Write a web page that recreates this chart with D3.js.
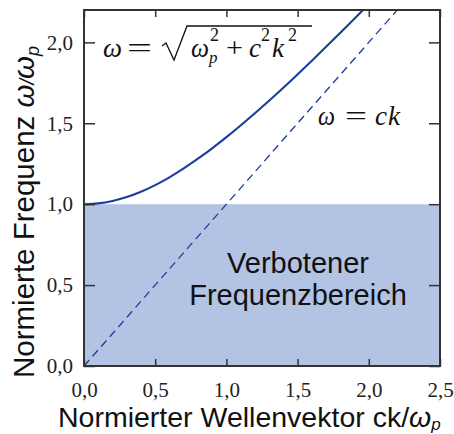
<!DOCTYPE html>
<html><head><meta charset="utf-8">
<script src="https://cdn.jsdelivr.net/npm/d3@7"></script>
<style>body{margin:0;background:#fff}svg{display:block}</style>
</head><body>
<script>
// Data
const curveK     = [0, 0.1, 0.2, 0.3, 0.4, 0.5, 0.6, 0.7, 0.8, 0.9, 1.0, 1.2, 1.4, 1.6, 1.8, 2.0];
const curveOmega = [1.0, 1.005, 1.02, 1.044, 1.077, 1.118, 1.166, 1.221, 1.281, 1.345, 1.414, 1.562, 1.72, 1.887, 2.059, 2.236];
const lineK      = [0, 2.2];
const lineOmega  = [0, 2.2];
const bandK      = [0, 2.5];
const bandOmega  = [1.0, 1.0];
const xTicks = [0, 0.5, 1.0, 1.5, 2.0, 2.5];
const yTicks = [0, 0.5, 1.0, 1.5, 2.0];
const xTickLabels = ["0,0", "0,5", "1,0", "1,5", "2,0", "2,5"];
const yTickLabels = ["0,0", "0,5", "1,0", "1,5", "2,0"];

const W = 454, H = 434;
const m = {l: 84, t: 10, r: 14, b: 68};
const iw = W - m.l - m.r, ih = H - m.t - m.b;
const blue = "#1a3d9e", fillC = "#b3c3e3", frameC = "#333";
const SERIF = "Liberation Serif, DejaVu Serif, Noto Serif, Times New Roman, Times, serif";
const SANS = "Liberation Sans, Arial, Helvetica, sans-serif";

const svg = d3.select("body").append("svg").attr("width", W).attr("height", H);
const x = d3.scaleLinear().domain([0, 2.5]).range([0, iw]);
const y = d3.scaleLinear().domain([0, 2.2]).range([ih, 0]);

svg.append("defs").append("clipPath").attr("id", "clip")
  .append("rect").attr("width", iw).attr("height", ih);

const g = svg.append("g").attr("transform", `translate(${m.l},${m.t})`);
const plot = g.append("g").attr("clip-path", "url(#clip)");

const band = bandK.map((k, i) => ({k, w: bandOmega[i]}));
plot.append("path").datum(band)
  .attr("fill", fillC)
  .attr("d", d3.area().x(d => x(d.k)).y0(y(0)).y1(d => y(d.w)));

const ld = lineK.map((k, i) => ({k, w: lineOmega[i]}));
plot.append("path").datum(ld)
  .attr("fill", "none").attr("stroke", blue).attr("stroke-width", 1.3)
  .attr("stroke-dasharray", "8,5")
  .attr("d", d3.line().x(d => x(d.k)).y(d => y(d.w)));

const cd = curveK.map((k, i) => ({k, w: curveOmega[i]}));
plot.append("path").datum(cd)
  .attr("fill", "none").attr("stroke", blue).attr("stroke-width", 2.1)
  .attr("d", d3.line().curve(d3.curveMonotoneX).x(d => x(d.k)).y(d => y(d.w)));

const fmtX = d => xTickLabels[xTicks.indexOf(d)];
const fmtY = d => yTickLabels[yTicks.indexOf(d)];
const styleAxis = sel => {
  sel.select(".domain").remove();
  sel.attr("font-family", SERIF).attr("font-size", 21);
  sel.selectAll("line").attr("stroke", frameC).attr("stroke-width", 1.5);
  sel.selectAll("text").attr("fill", "#222").attr("font-family", SERIF).attr("font-size", 21);
};
g.append("g").attr("transform", `translate(0,${ih})`)
  .call(d3.axisBottom(x).tickValues(xTicks).tickSize(-7).tickPadding(16).tickFormat(fmtX)).call(styleAxis);
g.append("g")
  .call(d3.axisTop(x).tickValues(xTicks).tickSize(-7).tickFormat("")).call(styleAxis);
g.append("g")
  .call(d3.axisLeft(y).tickValues(yTicks).tickSize(-11).tickPadding(11).tickFormat(fmtY)).call(styleAxis);
g.append("g").attr("transform", `translate(${iw},0)`)
  .call(d3.axisRight(y).tickValues(yTicks).tickSize(-11).tickFormat("")).call(styleAxis);

g.append("rect").attr("width", iw).attr("height", ih)
  .attr("fill", "none").attr("stroke", frameC).attr("stroke-width", 2);

// band label
svg.append("text").attr("x", 298).attr("y", 273).attr("text-anchor", "middle")
  .attr("font-family", SANS).attr("font-size", 29).attr("fill", "#111").text("Verbotener");
svg.append("text").attr("x", 298).attr("y", 305).attr("text-anchor", "middle")
  .attr("font-family", SANS).attr("font-size", 29).attr("fill", "#111").text("Frequenzbereich");

// formulas
const t = (xx, yy, s, sz, it, len) => {
  const e = svg.append("text").attr("x", xx).attr("y", yy)
    .attr("font-family", SERIF).attr("font-size", sz)
    .attr("font-style", it ? "italic" : "normal").attr("fill", "#111").text(s);
  if (len) e.attr("textLength", len).attr("lengthAdjust", "spacingAndGlyphs");
  return e;
};
t(103, 57, "ω", 27, true, 19);
t(127, 57, "=", 27, false, 25);
svg.append("path").attr("d", "M162,46 L166,43 L174,60 L187,26 L312,26")
  .attr("fill", "none").attr("stroke", "#111").attr("stroke-width", 1.3);
t(191, 57, "ω", 27, true, 18);
t(209, 63, "p", 17, true);
t(210, 41, "2", 18, false);
t(226, 57, "+", 27, false, 17);
t(249, 57, "c", 27, true);
t(261, 41, "2", 18, false);
t(272, 57, "k", 27, true);
t(288, 41, "2", 18, false);

t(318, 125, "ω", 27, true, 17);
t(345, 125, "=", 27, false, 22);
t(375, 125, "c", 27, true);
t(388, 125, "k", 27, true);

// axis titles
const xl = svg.append("text").attr("x", 58).attr("y", 427)
  .attr("font-family", SANS).attr("font-size", 28.5).attr("fill", "#111");
xl.append("tspan").text("Normierter Wellenvektor ck/");
xl.append("tspan").attr("font-style", "italic").text("ω");
xl.append("tspan").attr("font-style", "italic").attr("font-size", 17).attr("dy", 3).text("p");

const yl = svg.append("text").attr("transform", "translate(34,378) rotate(-90)")
  .attr("font-family", SANS).attr("font-size", 29.5).attr("fill", "#111");
yl.append("tspan").text("Normierte Frequenz ");
yl.append("tspan").attr("font-style", "italic").text("ω");
yl.append("tspan").attr("font-style", "italic").attr("font-size", 20).text("/");
yl.append("tspan").attr("font-style", "italic").text("ω");
yl.append("tspan").attr("font-style", "italic").attr("font-size", 18).attr("dy", 5).text("p");
</script>
</body></html>
